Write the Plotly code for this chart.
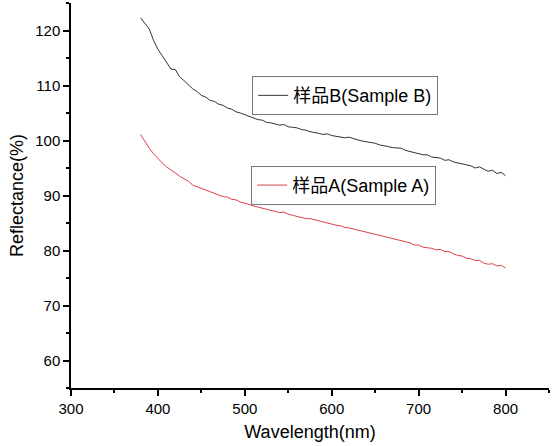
import plotly.graph_objects as go

# wavelength grid (nm)
wavelength = [380, 385, 390, 395, 400, 405, 410, 415, 420, 425, 430, 435, 440, 445, 450,
              455, 460, 465, 470, 475, 480, 485, 490, 495, 500, 505, 510, 515, 520, 525,
              530, 535, 540, 545, 550, 555, 560, 565, 570, 575, 580, 585, 590, 595, 600,
              605, 610, 615, 620, 625, 630, 635, 640, 645, 650, 655, 660, 665, 670, 675,
              680, 685, 690, 695, 700, 705, 710, 715, 720, 725, 730, 735, 740, 745, 750,
              755, 760, 765, 770, 775, 780, 785, 790, 795, 800]

# reflectance of sample B (%)
sample_b = [122.3, 121.4, 120.3, 118.2, 116.6, 115.4, 114.2, 113.0, 112.9, 111.6, 110.9, 110.1,
            109.4, 108.9, 108.2, 107.9, 107.3, 107.1, 106.6, 106.4, 105.9, 105.7, 105.2, 105.0,
            104.7, 104.4, 104.2, 103.8, 103.7, 103.3, 103.2, 103.0, 102.8, 102.9, 102.5, 102.4,
            102.3, 102.0, 101.9, 101.6, 101.5, 101.3, 101.1, 101.2, 100.9, 100.8, 100.7, 100.5,
            100.6, 100.3, 100.1, 99.9, 99.8, 99.6, 99.5, 99.2, 99.1, 98.9, 98.7, 98.6,
            98.6, 98.2, 98.0, 97.9, 97.7, 97.4, 97.4, 97.0, 96.9, 96.8, 96.4, 96.5,
            96.1, 95.9, 95.8, 95.5, 95.4, 95.0, 95.2, 94.8, 94.4, 94.6, 94.0, 94.2, 93.6]

# reflectance of sample A (%)
sample_a = [101.1, 99.8, 98.6, 97.6, 96.7, 95.9, 95.2, 94.7, 94.1, 93.5, 93.0, 92.6,
            91.9, 91.6, 91.2, 90.9, 90.7, 90.3, 90.1, 89.8, 89.7, 89.3, 89.2, 88.8,
            88.6, 88.3, 88.1, 87.9, 87.7, 87.6, 87.3, 87.2, 86.9, 87.0, 86.6, 86.4,
            86.2, 86.1, 85.8, 85.8, 85.6, 85.3, 85.2, 84.9, 84.8, 84.6, 84.5, 84.2,
            84.1, 83.9, 83.7, 83.6, 83.3, 83.2, 83.0, 82.7, 82.6, 82.3, 82.2, 81.9,
            81.8, 81.5, 81.4, 81.0, 81.0, 80.6, 80.5, 80.4, 80.1, 80.2, 79.8, 79.8,
            79.4, 79.1, 79.0, 78.6, 78.5, 78.2, 78.2, 77.7, 77.5, 77.6, 77.2, 77.3, 76.8]

font_family = 'Arial, Liberation Sans, Noto Sans CJK SC, sans-serif'

fig = go.Figure()
fig.add_trace(go.Scatter(x=wavelength, y=sample_b, mode='lines', name='样品B(Sample B)',
                         line={'color': '#333333', 'width': 1},
                         legend='legend', showlegend=True))
fig.add_trace(go.Scatter(x=wavelength, y=sample_a, mode='lines', name='样品A(Sample A)',
                         line={'color': '#d9424a', 'width': 1},
                         legend='legend2', showlegend=True))

legend_style = {
    'bgcolor': 'white',
    'bordercolor': '#777777',
    'borderwidth': 1,
    'font': {'size': 18, 'color': 'black', 'family': font_family},
    'xanchor': 'left',
    'yanchor': 'top',
}

axis_common = {
    'showline': True,
    'linecolor': 'black',
    'linewidth': 1.5,
    'ticks': 'outside',
    'ticklen': 6,
    'tickwidth': 1.5,
    'tickcolor': 'black',
    'showgrid': False,
    'zeroline': False,
    'tickfont': {'size': 15, 'color': 'black', 'family': font_family},
    'title_font': {'size': 18, 'color': 'black', 'family': font_family},
}

fig.update_layout(
    width=553,
    height=446,
    margin={'l': 71, 'r': 4, 't': 3, 'b': 58},
    paper_bgcolor='white',
    plot_bgcolor='white',
    font_family=font_family,
    legend={**legend_style, 'x': 0.379, 'y': 0.81},
    legend2={**legend_style, 'x': 0.377, 'y': 0.577},
    xaxis={**axis_common, 'range': [300, 850], 'tick0': 300, 'dtick': 100,
           'title': {'text': 'Wavelength(nm)', 'standoff': 10},
           'minor': {'dtick': 50, 'ticks': 'outside', 'ticklen': 3, 'tickcolor': 'black'}},
    yaxis={**axis_common, 'range': [55, 125], 'tick0': 60, 'dtick': 10,
           'title': {'text': 'Reflectance(%)', 'standoff': 7},
           'minor': {'dtick': 5, 'ticks': 'outside', 'ticklen': 3, 'tickcolor': 'black'}},
)

# drop the default page margin so the figure sits at the window's top-left corner
fig.write_html("out.html", config={'displayModeBar': False},
               post_script="document.body.style.margin = '0';")
